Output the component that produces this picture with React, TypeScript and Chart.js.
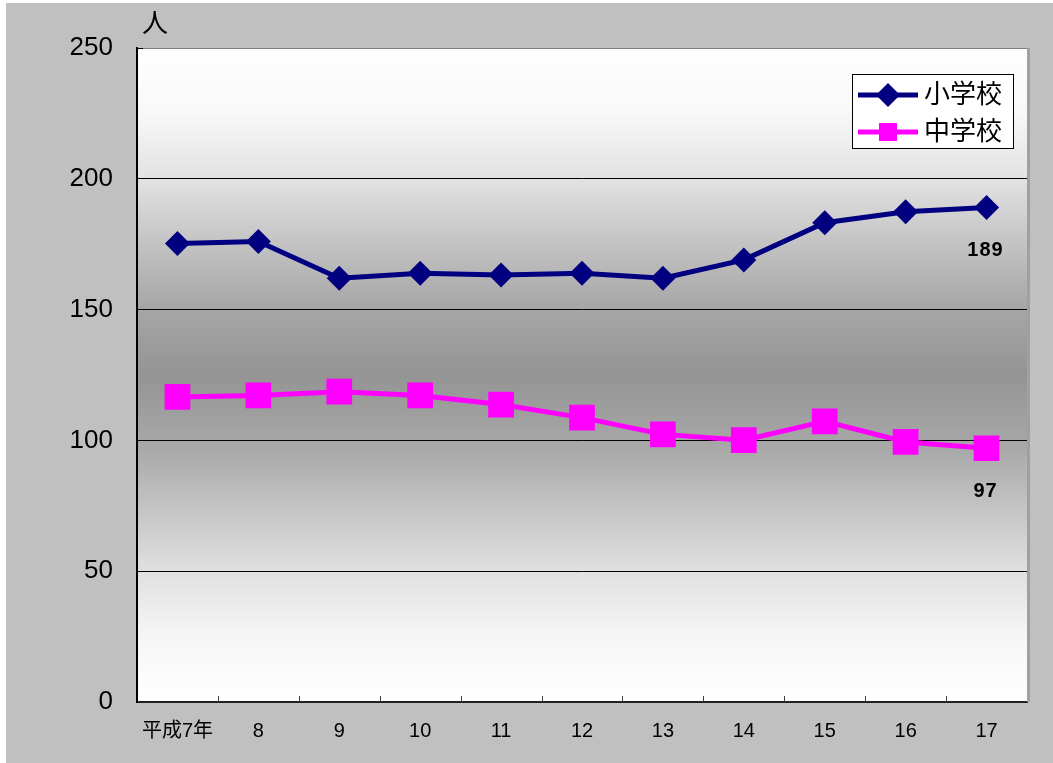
import React, { useEffect, useRef } from "react";
import { Chart, registerables } from "chart.js";

Chart.register(...registerables);

const categories = ["平成7年", "8", "9", "10", "11", "12", "13", "14", "15", "16", "17"];
const elementary = [175.3, 176, 162, 163.9, 163.2, 163.9, 162, 169, 183.2, 187.4, 189];
const juniorHigh = [116.6, 117.2, 118.6, 117.2, 113.7, 108.7, 102.3, 100.1, 107.3, 99.4, 97];
const seriesNames = ["小学校", "中学校"];
const yTicks = [0, 50, 100, 150, 200, 250];
const lastLabels = ["189", "97"];
const yUnit = "人";

const FONT = '"Liberation Sans", Arial, "Noto Sans CJK JP", sans-serif';
const NAVY = "#000080";
const MAGENTA = "#ff00ff";

const decorPlugin = {
  id: "decor",
  beforeDraw(chart: any) {
    const { ctx, chartArea: a, width, height } = chart;
    ctx.save();
    ctx.fillStyle = "#ffffff";
    ctx.fillRect(0, 0, width, height);
    ctx.fillStyle = "#c0c0c0";
    ctx.fillRect(6, 3, width - 6, height - 3);
    const g = ctx.createLinearGradient(0, a.top, 0, a.bottom);
    const stops: [number, number][] = [
      [0, 255], [0.1, 248], [0.2, 226], [0.31, 192], [0.39, 168], [0.5, 148],
      [0.61, 168], [0.69, 192], [0.8, 224], [0.9, 246], [1, 255],
    ];
    stops.forEach(([p, v]) => g.addColorStop(p, `rgb(${v},${v},${v})`));
    ctx.fillStyle = g;
    ctx.fillRect(a.left, a.top, a.right - a.left, a.bottom - a.top);
    ctx.restore();
  },
  afterDraw(chart: any) {
    const { ctx, chartArea: a } = chart;
    const xs = chart.scales.x;
    ctx.save();
    // plot border (top / right) in gray
    ctx.strokeStyle = "#808080";
    ctx.lineWidth = 1;
    ctx.beginPath();
    ctx.moveTo(a.left, a.top + 0.5);
    ctx.lineTo(a.right, a.top + 0.5);
    ctx.stroke();
    ctx.strokeStyle = "#a0a0a0";
    ctx.lineWidth = 3;
    ctx.beginPath();
    ctx.moveTo(a.right + 1.5, a.top);
    ctx.lineTo(a.right + 1.5, a.bottom);
    ctx.stroke();
    // x tick marks (between categories), inside
    ctx.strokeStyle = "#404040";
    ctx.lineWidth = 1;
    ctx.beginPath();
    for (let i = 0; i < categories.length - 1; i++) {
      const px = Math.round((xs.getPixelForValue(i) + xs.getPixelForValue(i + 1)) / 2) + 0.5;
      ctx.moveTo(px, a.bottom);
      ctx.lineTo(px, a.bottom - 6);
    }
    ctx.stroke();
    ctx.strokeStyle = "#000";
    ctx.beginPath();
    ctx.moveTo(a.left, a.top + 0.5);
    ctx.lineTo(a.left + 6, a.top + 0.5);
    ctx.stroke();
    // y unit
    ctx.fillStyle = "#000";
    ctx.font = `26px ${FONT}`;
    ctx.textAlign = "center";
    ctx.textBaseline = "middle";
    ctx.fillText(yUnit, 155, 25);
    // last value labels
    ctx.font = `bold 20px ${FONT}`;
    (ctx as any).letterSpacing = "1px";
    [0, 1].forEach((di) => {
      const meta = chart.getDatasetMeta(di);
      const pt = meta.data[meta.data.length - 1];
      ctx.fillText(lastLabels[di], pt.x - 1, pt.y + 43);
    });
    (ctx as any).letterSpacing = "0px";
    // legend
    const lx = 852, ly = 74, lw = 161, lh = 74;
    ctx.fillStyle = "#ffffff";
    ctx.fillRect(lx, ly, lw, lh);
    ctx.strokeStyle = "#000";
    ctx.lineWidth = 1;
    ctx.strokeRect(lx + 0.5, ly + 0.5, lw, lh);
    const rows = [
      { y: 95, color: NAVY, shape: "diamond", name: seriesNames[0] },
      { y: 132, color: MAGENTA, shape: "square", name: seriesNames[1] },
    ];
    rows.forEach((r) => {
      ctx.strokeStyle = r.color;
      ctx.lineWidth = 5;
      ctx.beginPath();
      ctx.moveTo(858, r.y);
      ctx.lineTo(918, r.y);
      ctx.stroke();
      ctx.fillStyle = r.color;
      ctx.beginPath();
      if (r.shape === "diamond") {
        ctx.moveTo(888, r.y - 12);
        ctx.lineTo(900, r.y);
        ctx.lineTo(888, r.y + 12);
        ctx.lineTo(876, r.y);
        ctx.closePath();
      } else {
        ctx.rect(879, r.y - 9, 18, 18);
      }
      ctx.fill();
      ctx.fillStyle = "#000";
      ctx.font = `26px ${FONT}`;
      ctx.textAlign = "left";
      ctx.textBaseline = "middle";
      ctx.fillText(r.name, 924, r.y + 1);
    });
    ctx.restore();
  },
};

export default function App() {
  const ref = useRef<HTMLCanvasElement | null>(null);
  useEffect(() => {
    document.body.style.margin = "0";
    const chart = new Chart(ref.current as HTMLCanvasElement, {
      type: "line",
      data: {
        labels: categories,
        datasets: [
          {
            label: seriesNames[0],
            data: elementary,
            borderColor: NAVY,
            backgroundColor: NAVY,
            borderWidth: 5,
            pointStyle: "rectRot",
            pointRadius: 12.5,
            pointBorderWidth: 0,
            tension: 0,
          },
          {
            label: seriesNames[1],
            data: juniorHigh,
            borderColor: MAGENTA,
            backgroundColor: MAGENTA,
            borderWidth: 5,
            pointStyle: "rect",
            pointRadius: 18.2,
            pointBorderWidth: 0,
            tension: 0,
          },
        ],
      },
      options: {
        responsive: false,
        animation: false,
        devicePixelRatio: 1,
        layout: { padding: { top: 48, right: 26, bottom: 0, left: 0 } },
        plugins: { legend: { display: false }, tooltip: { enabled: false } },
        scales: {
          x: {
            type: "category",
            offset: true,
            grid: { display: false, drawTicks: false },
            border: { display: true, color: "#202020", width: 2 },
            ticks: { color: "#000", font: { size: 20, family: FONT }, padding: 17, maxRotation: 0, autoSkip: false },
            afterFit: (s: any) => { s.height = 61; },
          },
          y: {
            min: 0,
            max: 250,
            afterBuildTicks: (s: any) => { s.ticks = yTicks.map((v) => ({ value: v })); },
            grid: {
              drawTicks: false,
              color: (c: any) => (c.tick && (c.tick.value === 250 || c.tick.value === 0) ? "rgba(0,0,0,0)" : "#000"),
              lineWidth: 1,
            },
            border: { display: true, color: "#000", width: 2 },
            ticks: { color: "#000", font: { size: 26, family: FONT }, padding: 24 },
            afterFit: (s: any) => { s.width = 137; },
          },
        },
      },
      plugins: [decorPlugin],
    });
    return () => chart.destroy();
  }, []);
  return (
    <div style={{ width: 1053, height: 763 }}>
      <canvas ref={ref} width={1053} height={763} style={{ display: "block", width: 1053, height: 763 }} />
    </div>
  );
}
